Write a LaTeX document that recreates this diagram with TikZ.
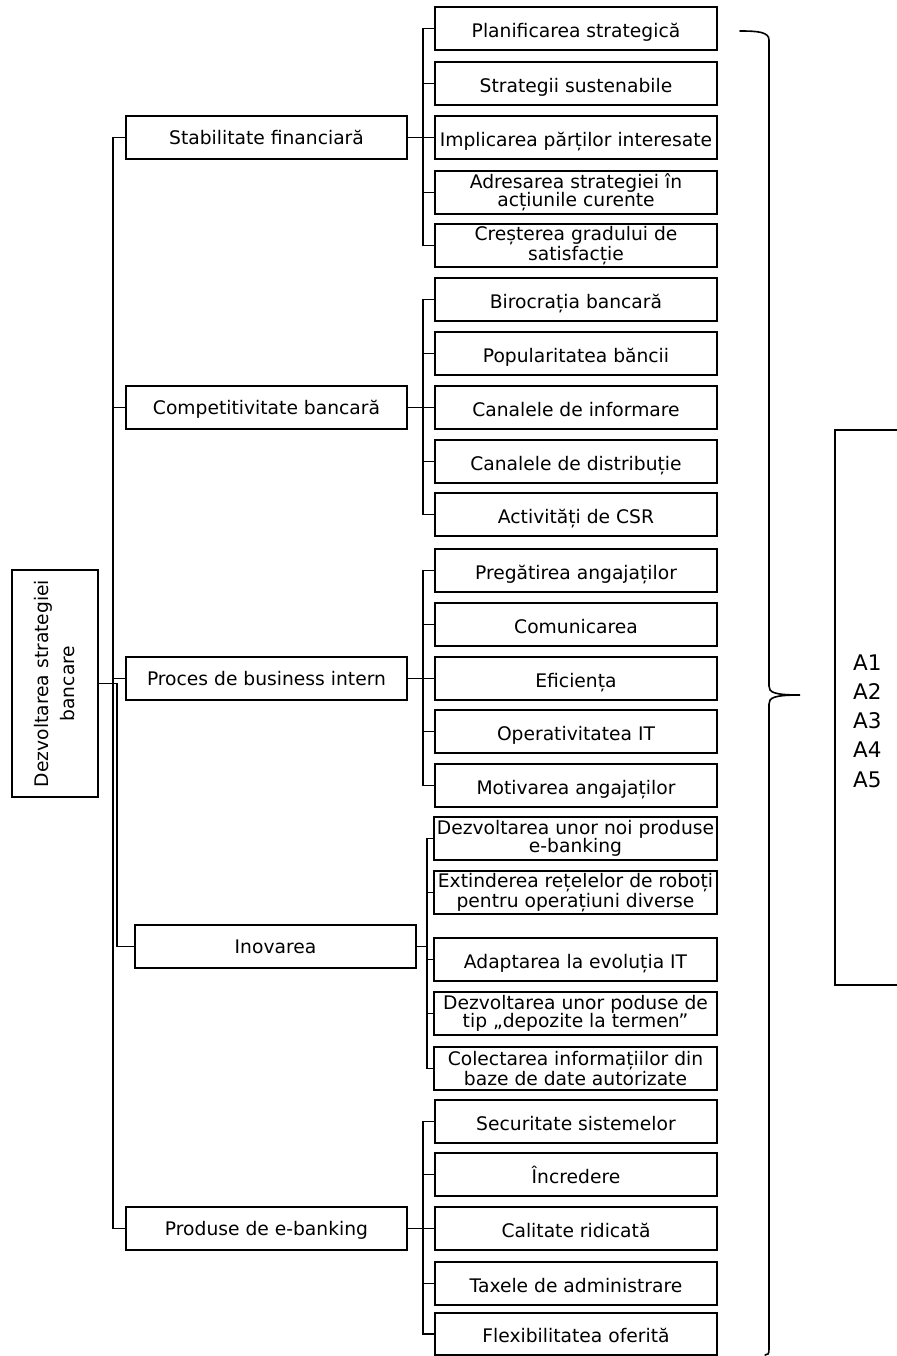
\documentclass[tikz,border=0pt]{standalone}
\usepackage{fontspec}
\setmainfont{DejaVu Sans}
\begin{document}
\begin{tikzpicture}[x=1pt,y=-1pt,
  box/.style={draw, line width=1.35pt, rectangle, inner sep=1pt, align=center,
    minimum height=43pt, font=\fontsize{18.7}{18.5}\selectfont},
  leaf/.style={box, minimum width=282pt},
  oneline/.style={text height=17.6pt, text depth=0pt},
  branch/.style={box, minimum width=281pt, text height=14pt, text depth=0pt},
  link/.style={line width=1.9pt},
  bracket/.style={line width=1.6pt, line cap=round}]
\useasboundingbox (0,0) rectangle (896,1356);

% root, text reads bottom to top
\node[box, rotate=90, minimum width=227pt, minimum height=86pt,
  font=\fontsize{18.7}{26}\selectfont] (root) at (55,683.5) {Dezvoltarea strategiei\\bancare};

% second level
\node[branch] (stab) at (266.5,137.5)  {Stabilitate financiară};
\node[branch] (comp) at (266.5,407.5)  {Competitivitate bancară};
\node[branch] (proc) at (266.5,678.5)  {Proces de business intern};
\node[branch] (ino)  at (275.5,946.5)  {Inovarea};
\node[branch] (prod) at (266.5,1228.5) {Produse de e-banking};

% leaves: Stabilitate financiară
\node[leaf, oneline] (s1) at (576,28.5)  {Planificarea strategică};
\node[leaf, oneline] (s2) at (576,83.5)  {Strategii sustenabile};
\node[leaf, oneline] (s3) at (576,137.5) {Implicarea părților interesate};
\node[leaf] (s4) at (576,192.5) {Adresarea strategiei în\\acțiunile curente};
\node[leaf] (s5) at (576,245.5) {Creșterea gradului de\\satisfacție};

% leaves: Competitivitate bancară
\node[leaf, oneline] (c1) at (576,299.5) {Birocrația bancară};
\node[leaf, oneline] (c2) at (576,353.5) {Popularitatea băncii};
\node[leaf, oneline] (c3) at (576,407.5) {Canalele de informare};
\node[leaf, oneline] (c4) at (576,461.5) {Canalele de distribuție};
\node[leaf, oneline] (c5) at (576,514.5) {Activități de CSR};

% leaves: Proces de business intern
\node[leaf, oneline] (p1) at (576,570.5) {Pregătirea angajaților};
\node[leaf, oneline] (p2) at (576,624.5) {Comunicarea};
\node[leaf, oneline] (p3) at (576,678.5) {Eficiența};
\node[leaf, oneline] (p4) at (576,731.5) {Operativitatea IT};
\node[leaf, oneline] (p5) at (576,785.5) {Motivarea angajaților};

% leaves: Inovarea
\node[leaf, minimum width=283pt] (i1) at (575.5,838.5)  {Dezvoltarea unor noi produse\\e-banking};
\node[leaf, minimum width=283pt] (i2) at (575.5,892.5)  {Extinderea rețelelor de roboți\\pentru operațiuni diverse};
\node[leaf, oneline, minimum width=283pt] (i3) at (575.5,959.5) {Adaptarea la evoluția IT};
\node[leaf, minimum width=283pt] (i4) at (575.5,1013.5) {Dezvoltarea unor poduse de\\tip „depozite la termen”};
\node[leaf, minimum width=283pt] (i5) at (575.5,1068.5) {Colectarea informațiilor din\\baze de date autorizate};

% leaves: Produse de e-banking
\node[leaf, oneline] (e1) at (576,1121.5) {Securitate sistemelor};
\node[leaf, oneline] (e2) at (576,1174.5) {Încredere};
\node[leaf, oneline] (e3) at (576,1228.5) {Calitate ridicată};
\node[leaf, oneline] (e4) at (576,1283.5) {Taxele de administrare};
\node[leaf, oneline, minimum height=42pt] (e5) at (576,1334) {Flexibilitatea oferită};

% root to second level
\foreach \b in {stab,comp,proc,prod}
  \draw[link] (root.south) -- ++(14,0) |- (\b.west);
\draw[link] (root.south) -- ++(18,0) |- (ino.west);

% second level to leaves
\foreach \n in {s1,s2,s3,s4,s5} \draw[link] (stab.east) -- ++(15,0) |- (\n.west);
\foreach \n in {c1,c2,c3,c4,c5} \draw[link] (comp.east) -- ++(15,0) |- (\n.west);
\foreach \n in {p1,p2,p3,p4,p5} \draw[link] (proc.east) -- ++(15,0) |- (\n.west);
\foreach \n in {i1,i2,i3,i4,i5} \draw[link] (ino.east)  -- ++(10,0) |- (\n.west);
\foreach \n in {e1,e2,e3,e4,e5} \draw[link] (prod.east) -- ++(15,0) |- (\n.west);

% curly bracket gathering all leaves
\coordinate (btop) at (740,31);
\coordinate (btip) at (800,695);
\coordinate (bbot) at (765,1355);
\draw[bracket] (btop) .. controls (758,31) and (769,32) .. (769,40) -- (769,686)
  .. controls (769,692) and (773,695) .. (btip)
  .. controls (773,695) and (769,698) .. (769,704) -- (769,1349)
  .. controls (769,1354) and (768,1355) .. (bbot);

% open box with the list
\draw[line width=1.4pt] (905,430) -- (835,430) -- (835,985) -- (905,985);
\node[anchor=west, align=left, inner sep=0pt, font=\fontsize{21.5}{29.25}\selectfont]
  (alist) at (853,721) {A1\\A2\\A3\\A4\\A5};
\end{tikzpicture}
\end{document}
